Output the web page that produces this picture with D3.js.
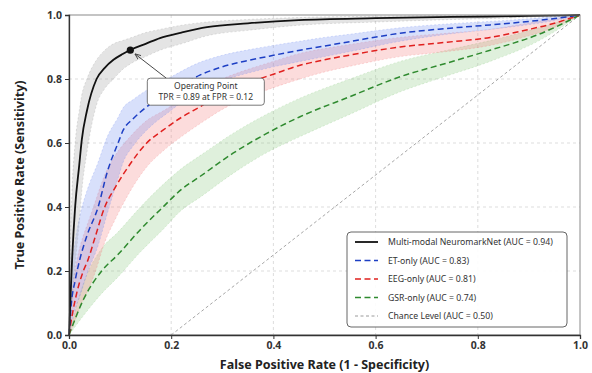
<!DOCTYPE html>
<html>
<head>
<meta charset="utf-8">
<script src="https://cdn.jsdelivr.net/npm/d3@7"></script>
<style>
  body { margin: 0; background: #fff; }
  svg text { font-family: "Noto Sans", "DejaVu Sans", sans-serif; }
</style>
</head>
<body>
<svg id="roc" width="592" height="373"></svg>
<script>
// Multi-modal NeuromarkNet (mean curve + band)
const mmFpr = [0, 0.003, 0.006, 0.012, 0.02, 0.025, 0.035, 0.054, 0.07, 0.087, 0.105, 0.123, 0.15, 0.178, 0.22, 0.27, 0.35, 0.45, 0.6, 0.75, 0.9, 1.0];
const mmTpr = [0, 0.12, 0.234, 0.40, 0.53, 0.61, 0.70, 0.80, 0.835, 0.86, 0.878, 0.893, 0.91, 0.928, 0.945, 0.962, 0.974, 0.984, 0.99, 0.994, 0.997, 1.0];
const mmHi  = [0, 0.30, 0.45, 0.60, 0.70, 0.75, 0.80, 0.86, 0.89, 0.91, 0.92, 0.93, 0.945, 0.955, 0.968, 0.978, 0.986, 0.992, 0.996, 0.998, 0.999, 1.0];
const mmLo  = [0, 0.04, 0.10, 0.22, 0.35, 0.45, 0.57, 0.72, 0.77, 0.80, 0.83, 0.85, 0.87, 0.89, 0.91, 0.935, 0.952, 0.968, 0.978, 0.986, 0.993, 1.0];

// ET-only
const etFpr = [0, 0.004, 0.012, 0.021, 0.035, 0.057, 0.075, 0.096, 0.106, 0.125, 0.152, 0.198, 0.256, 0.3, 0.354, 0.4, 0.452, 0.5, 0.55, 0.648, 0.74, 0.824, 0.9, 0.955, 1.0];
const etTpr = [0, 0.09, 0.17, 0.235, 0.31, 0.40, 0.51, 0.60, 0.64, 0.675, 0.713, 0.758, 0.812, 0.838, 0.859, 0.874, 0.89, 0.903, 0.917, 0.943, 0.958, 0.969, 0.98, 0.99, 1.0];
const etHi  = [0, 0.18, 0.29, 0.37, 0.45, 0.54, 0.62, 0.68, 0.71, 0.735, 0.765, 0.805, 0.852, 0.874, 0.892, 0.905, 0.918, 0.93, 0.94, 0.96, 0.972, 0.98, 0.988, 0.995, 1.0];
const etLo  = [0, 0.03, 0.08, 0.12, 0.19, 0.28, 0.38, 0.49, 0.54, 0.59, 0.64, 0.70, 0.765, 0.795, 0.82, 0.838, 0.855, 0.87, 0.886, 0.918, 0.94, 0.955, 0.97, 0.984, 1.0];

// EEG-only
const eegFpr = [0, 0.006, 0.015, 0.028, 0.037, 0.05, 0.07, 0.09, 0.12, 0.152, 0.184, 0.22, 0.256, 0.3, 0.354, 0.4, 0.452, 0.5, 0.55, 0.648, 0.74, 0.824, 0.9, 0.94, 1.0];
const eegTpr = [0, 0.06, 0.13, 0.20, 0.234, 0.30, 0.40, 0.46, 0.535, 0.60, 0.64, 0.68, 0.713, 0.755, 0.79, 0.815, 0.843, 0.86, 0.875, 0.90, 0.915, 0.93, 0.955, 0.97, 1.0];
const eegHi  = [0, 0.13, 0.23, 0.31, 0.35, 0.41, 0.50, 0.56, 0.62, 0.67, 0.70, 0.735, 0.763, 0.80, 0.832, 0.855, 0.88, 0.895, 0.908, 0.93, 0.943, 0.955, 0.975, 0.985, 1.0];
const eegLo  = [0, 0.02, 0.06, 0.11, 0.14, 0.19, 0.29, 0.36, 0.45, 0.525, 0.575, 0.62, 0.66, 0.705, 0.745, 0.773, 0.80, 0.822, 0.84, 0.87, 0.886, 0.905, 0.935, 0.955, 1.0];

// GSR-only
const gsrFpr = [0, 0.028, 0.064, 0.095, 0.14, 0.184, 0.22, 0.256, 0.321, 0.387, 0.452, 0.55, 0.648, 0.74, 0.824, 0.92, 1.0];
const gsrTpr = [0, 0.11, 0.20, 0.25, 0.33, 0.40, 0.455, 0.495, 0.568, 0.63, 0.682, 0.745, 0.807, 0.85, 0.89, 0.94, 1.0];
const gsrHi  = [0, 0.16, 0.27, 0.32, 0.40, 0.47, 0.52, 0.56, 0.63, 0.69, 0.74, 0.80, 0.855, 0.89, 0.92, 0.96, 1.0];
const gsrLo  = [0, 0.06, 0.13, 0.18, 0.26, 0.33, 0.39, 0.43, 0.505, 0.57, 0.62, 0.69, 0.76, 0.81, 0.855, 0.92, 1.0];

// Chance level
const chanceFpr = [0.2, 1.0];
const chanceTpr = [0.0, 1.0];

const tickValues = [0, 0.2, 0.4, 0.6, 0.8, 1.0];
const legendLabels = [
    "Multi-modal NeuromarkNet (AUC = 0.94)",
    "ET-only (AUC = 0.83)",
    "EEG-only (AUC = 0.81)",
    "GSR-only (AUC = 0.74)",
    "Chance Level (AUC = 0.50)"
];
const opPoint = { fpr: 0.12, tpr: 0.89 };
const opLines = ["Operating Point", "TPR = 0.89 at FPR = 0.12"];

// Layout
const margin = { top: 15, right: 12, bottom: 38, left: 69 };
const width = 592 - margin.left - margin.right;
const height = 373 - margin.top - margin.bottom;

const svg = d3.select("#roc")
    .append("g")
    .attr("transform", "translate(" + margin.left + "," + margin.top + ")");

const x = d3.scaleLinear().domain([0, 1]).range([0, width]);
const y = d3.scaleLinear().domain([0, 1]).range([height, 0]);

// Grid
svg.append("g")
    .selectAll("line.vg")
    .data(tickValues.slice(1, -1))
    .enter().append("line")
    .attr("x1", d => x(d)).attr("x2", d => x(d))
    .attr("y1", 0).attr("y2", height)
    .attr("stroke", "#d4d4d4").attr("stroke-width", 0.8)
    .attr("stroke-dasharray", "3,3");
svg.append("g")
    .selectAll("line.hg")
    .data(tickValues.slice(1, -1))
    .enter().append("line")
    .attr("y1", d => y(d)).attr("y2", d => y(d))
    .attr("x1", 0).attr("x2", width)
    .attr("stroke", "#d4d4d4").attr("stroke-width", 0.8)
    .attr("stroke-dasharray", "3,3");

// Series definitions
const series = [
    { fpr: mmFpr, tpr: mmTpr, hi: mmHi, lo: mmLo, color: "#111111", band: "#9a9a9a", dash: null, w: 1.8 },
    { fpr: etFpr, tpr: etTpr, hi: etHi, lo: etLo, color: "#1d3fc4", band: "#6f8cf0", dash: "6,3.5", w: 1.5 },
    { fpr: eegFpr, tpr: eegTpr, hi: eegHi, lo: eegLo, color: "#e0201e", band: "#f47c7c", dash: "6,3.5", w: 1.5 },
    { fpr: gsrFpr, tpr: gsrTpr, hi: gsrHi, lo: gsrLo, color: "#2f8a2f", band: "#88c97c", dash: "6,3.5", w: 1.5 }
];

const area = d3.area()
    .x(d => x(d.f))
    .y0(d => y(d.lo))
    .y1(d => y(d.hi))
    .curve(d3.curveMonotoneX);

const line = d3.line()
    .x(d => x(d.f))
    .y(d => y(d.t))
    .curve(d3.curveMonotoneX);

// Bands (draw from back to front)
series.slice().reverse().forEach(s => {
    const pts = s.fpr.map((f, i) => ({ f: f, t: s.tpr[i], hi: s.hi[i], lo: s.lo[i] }));
    svg.append("path")
        .datum(pts)
        .attr("d", area)
        .attr("fill", s.band)
        .attr("fill-opacity", 0.27)
        .attr("stroke", s.band)
        .attr("stroke-opacity", 0.45)
        .attr("stroke-width", 0.6)
        .attr("stroke-dasharray", "2,2");
});

// Chance line
svg.append("path")
    .datum(chanceFpr.map((f, i) => ({ f: f, t: chanceTpr[i] })))
    .attr("d", d3.line().x(d => x(d.f)).y(d => y(d.t)))
    .attr("fill", "none")
    .attr("stroke", "#8f8f8f")
    .attr("stroke-width", 0.8)
    .attr("stroke-dasharray", "3,2.5");

// Mean curves
series.slice().reverse().forEach(s => {
    const pts = s.fpr.map((f, i) => ({ f: f, t: s.tpr[i] }));
    svg.append("path")
        .datum(pts)
        .attr("d", line)
        .attr("fill", "none")
        .attr("stroke", s.color)
        .attr("stroke-width", s.w)
        .attr("stroke-dasharray", s.dash);
});

// Frame: top/right lighter
svg.append("rect")
    .attr("x", 0).attr("y", 0)
    .attr("width", width).attr("height", height)
    .attr("fill", "none")
    .attr("stroke", "#8a8a8a")
    .attr("stroke-width", 1);

// Axes
const xAxis = svg.append("g")
    .attr("transform", "translate(0," + height + ")")
    .call(d3.axisBottom(x).tickValues(tickValues).tickFormat(d3.format(".1f")).tickSize(4).tickPadding(3));
const yAxis = svg.append("g")
    .call(d3.axisLeft(y).tickValues(tickValues).tickFormat(d3.format(".1f")).tickSize(4).tickPadding(3));
[xAxis, yAxis].forEach(a => {
    a.select(".domain").attr("stroke", "#333").attr("stroke-width", 1.3);
    a.selectAll(".tick line").attr("stroke", "#333");
    a.selectAll(".tick text")
        .attr("fill", "#333")
        .style("font-size", "10.5px")
        .style("font-weight", "bold");
});

// Axis labels
svg.append("text")
    .attr("x", width / 2)
    .attr("y", height + 34)
    .attr("text-anchor", "middle")
    .attr("fill", "#222")
    .style("font-size", "12.5px")
    .style("font-weight", "bold")
    .text("False Positive Rate (1 - Specificity)");

svg.append("text")
    .attr("transform", "rotate(-90)")
    .attr("x", -height / 2)
    .attr("y", -45)
    .attr("text-anchor", "middle")
    .attr("fill", "#222")
    .style("font-size", "12.5px")
    .style("font-weight", "bold")
    .text("True Positive Rate (Sensitivity)");

// Operating point annotation
const boxX = x(opPoint.fpr) + 17, boxY = y(opPoint.tpr) + 28, boxW = 117, boxH = 27;
svg.append("defs").append("marker")
    .attr("id", "arrow")
    .attr("viewBox", "0 0 10 10")
    .attr("refX", 9).attr("refY", 5)
    .attr("markerWidth", 7).attr("markerHeight", 7)
    .attr("orient", "auto")
    .append("path")
    .attr("d", "M0,1 L10,5 L0,9")
    .attr("fill", "none")
    .attr("stroke", "#333")
    .attr("stroke-width", 1.3);

svg.append("line")
    .attr("x1", boxX + 19).attr("y1", boxY)
    .attr("x2", x(opPoint.fpr) + 5).attr("y2", y(opPoint.tpr) + 4)
    .attr("stroke", "#333")
    .attr("stroke-width", 0.9)
    .attr("marker-end", "url(#arrow)");

svg.append("circle")
    .attr("cx", x(opPoint.fpr))
    .attr("cy", y(opPoint.tpr))
    .attr("r", 3.6)
    .attr("fill", "#111");

svg.append("rect")
    .attr("x", boxX).attr("y", boxY)
    .attr("width", boxW).attr("height", boxH)
    .attr("rx", 3)
    .attr("fill", "#fff")
    .attr("stroke", "#555")
    .attr("stroke-width", 0.8);

opLines.forEach((t, i) => {
    svg.append("text")
        .attr("x", boxX + boxW / 2)
        .attr("y", boxY + 11 + i * 10.5)
        .attr("text-anchor", "middle")
        .attr("fill", "#333")
        .style("font-size", "8.5px")
        .text(t);
});

// Legend
const legX = 278, legY = 217, legW = 220, legH = 95;
const legend = svg.append("g").attr("transform", "translate(" + legX + "," + legY + ")");
legend.append("rect")
    .attr("width", legW).attr("height", legH)
    .attr("rx", 4)
    .attr("fill", "#fff")
    .attr("fill-opacity", 0.9)
    .attr("stroke", "#555")
    .attr("stroke-width", 0.9);

const legendStyles = series.map(s => ({ color: s.color, dash: s.dash, w: s.w }))
    .concat([{ color: "#9a9a9a", dash: "3,2.5", w: 1 }]);

legendLabels.forEach((lab, i) => {
    const ly = 10 + i * 18.5;
    legend.append("line")
        .attr("x1", 8).attr("x2", 31)
        .attr("y1", ly).attr("y2", ly)
        .attr("stroke", legendStyles[i].color)
        .attr("stroke-width", legendStyles[i].w)
        .attr("stroke-dasharray", legendStyles[i].dash);
    legend.append("text")
        .attr("x", 41)
        .attr("y", ly + 3)
        .attr("fill", "#333")
        .style("font-size", "8.7px")
        .text(lab);
});
</script>
</body>
</html>
